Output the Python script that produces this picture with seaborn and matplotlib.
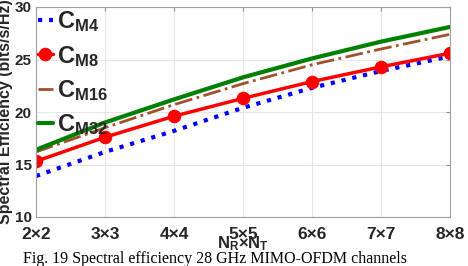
import matplotlib
matplotlib.use('Agg')
import matplotlib.pyplot as plt
import seaborn as sns
import pandas as pd

# antenna configurations (N_R = N_T)
antennas = [2, 3, 4, 5, 6, 7, 8]
tick_labels = ['2\u00d72', '3\u00d73', '4\u00d74', '5\u00d75', '6\u00d76', '7\u00d77', '8\u00d78']

# spectral efficiency (bits/s/Hz)
c_m4 = [13.9, 16.2, 18.2, 20.4, 22.3, 23.9, 25.3]
c_m8 = [15.3, 17.6, 19.6, 21.3, 22.9, 24.3, 25.6]
c_m16 = [16.2, 18.5, 20.7, 22.7, 24.5, 26.0, 27.4]
c_m32 = [16.4, 19.0, 21.2, 23.3, 25.1, 26.7, 28.1]

sns.set_style('white')
plt.rcParams['font.family'] = ['Liberation Sans', 'DejaVu Sans']
plt.rcParams['mathtext.fontset'] = 'custom'
plt.rcParams['mathtext.bf'] = 'Liberation Sans:bold'
plt.rcParams['mathtext.rm'] = 'Liberation Sans'

fig = plt.figure(figsize=(4.68, 2.66), dpi=100)
ax = fig.add_axes([36 / 468, 1 - 217 / 266, 414 / 468, 210 / 266])

sns.lineplot(x=antennas, y=c_m4, ax=ax, color='#0000ff', linestyle=':', linewidth=3,
             label=r'$\mathbf{C_{M4}}$')
sns.lineplot(x=antennas, y=c_m8, ax=ax, color='#ff0000', linestyle='-', linewidth=2.5,
             marker='o', markersize=9, markeredgecolor='#ff0000', label=r'$\mathbf{C_{M8}}$')
sns.lineplot(x=antennas, y=c_m16, ax=ax, color='#a0522d', linestyle='-.', linewidth=2,
             label=r'$\mathbf{C_{M16}}$')
sns.lineplot(x=antennas, y=c_m32, ax=ax, color='#008000', linestyle='-', linewidth=3,
             label=r'$\mathbf{C_{M32}}$')

ax.set_xlim(2, 8)
ax.set_ylim(10, 30)
ax.set_xticks(antennas)
ax.set_xticklabels(tick_labels)
ax.set_yticks([10, 15, 20, 25, 30])
ax.grid(True, color='#e6e6e6', linewidth=0.8)
for s in ax.spines.values():
    s.set_color('#a0a0a0')
    s.set_linewidth(0.8)
ax.tick_params(direction='in', length=3, color='#909090', top=True, right=True)
ax.tick_params(axis='x', pad=7, labelsize=12.5)
ax.tick_params(axis='y', pad=3, labelsize=11)
for lab in ax.get_xticklabels() + ax.get_yticklabels():
    lab.set_fontweight('bold')
    lab.set_color('#262626')

ax.set_xlabel(r'$\mathbf{N_R}$' + '\u00d7' + r'$\mathbf{N_T}$', fontsize=12,
              fontweight='bold', labelpad=-5, color='#262626')
ax.set_ylabel('Spectral Efficiency (bits/s/Hz)', fontsize=11.5, fontweight='bold',
              color='#262626')
ax.yaxis.set_label_coords(-0.055, 0.5)

leg = ax.legend(loc='upper left', frameon=False, fontsize=17, handlelength=0.6,
                handletextpad=0.2, labelspacing=0.4, borderaxespad=0.0,
                borderpad=0.1)

fig.text(0.46, 0.058, 'Fig. 19 Spectral efficiency 28 GHz MIMO-OFDM channels',
         family='Liberation Serif', fontsize=11.5, ha='center', va='top', color='black')

fig.savefig('out.png', dpi=100)
